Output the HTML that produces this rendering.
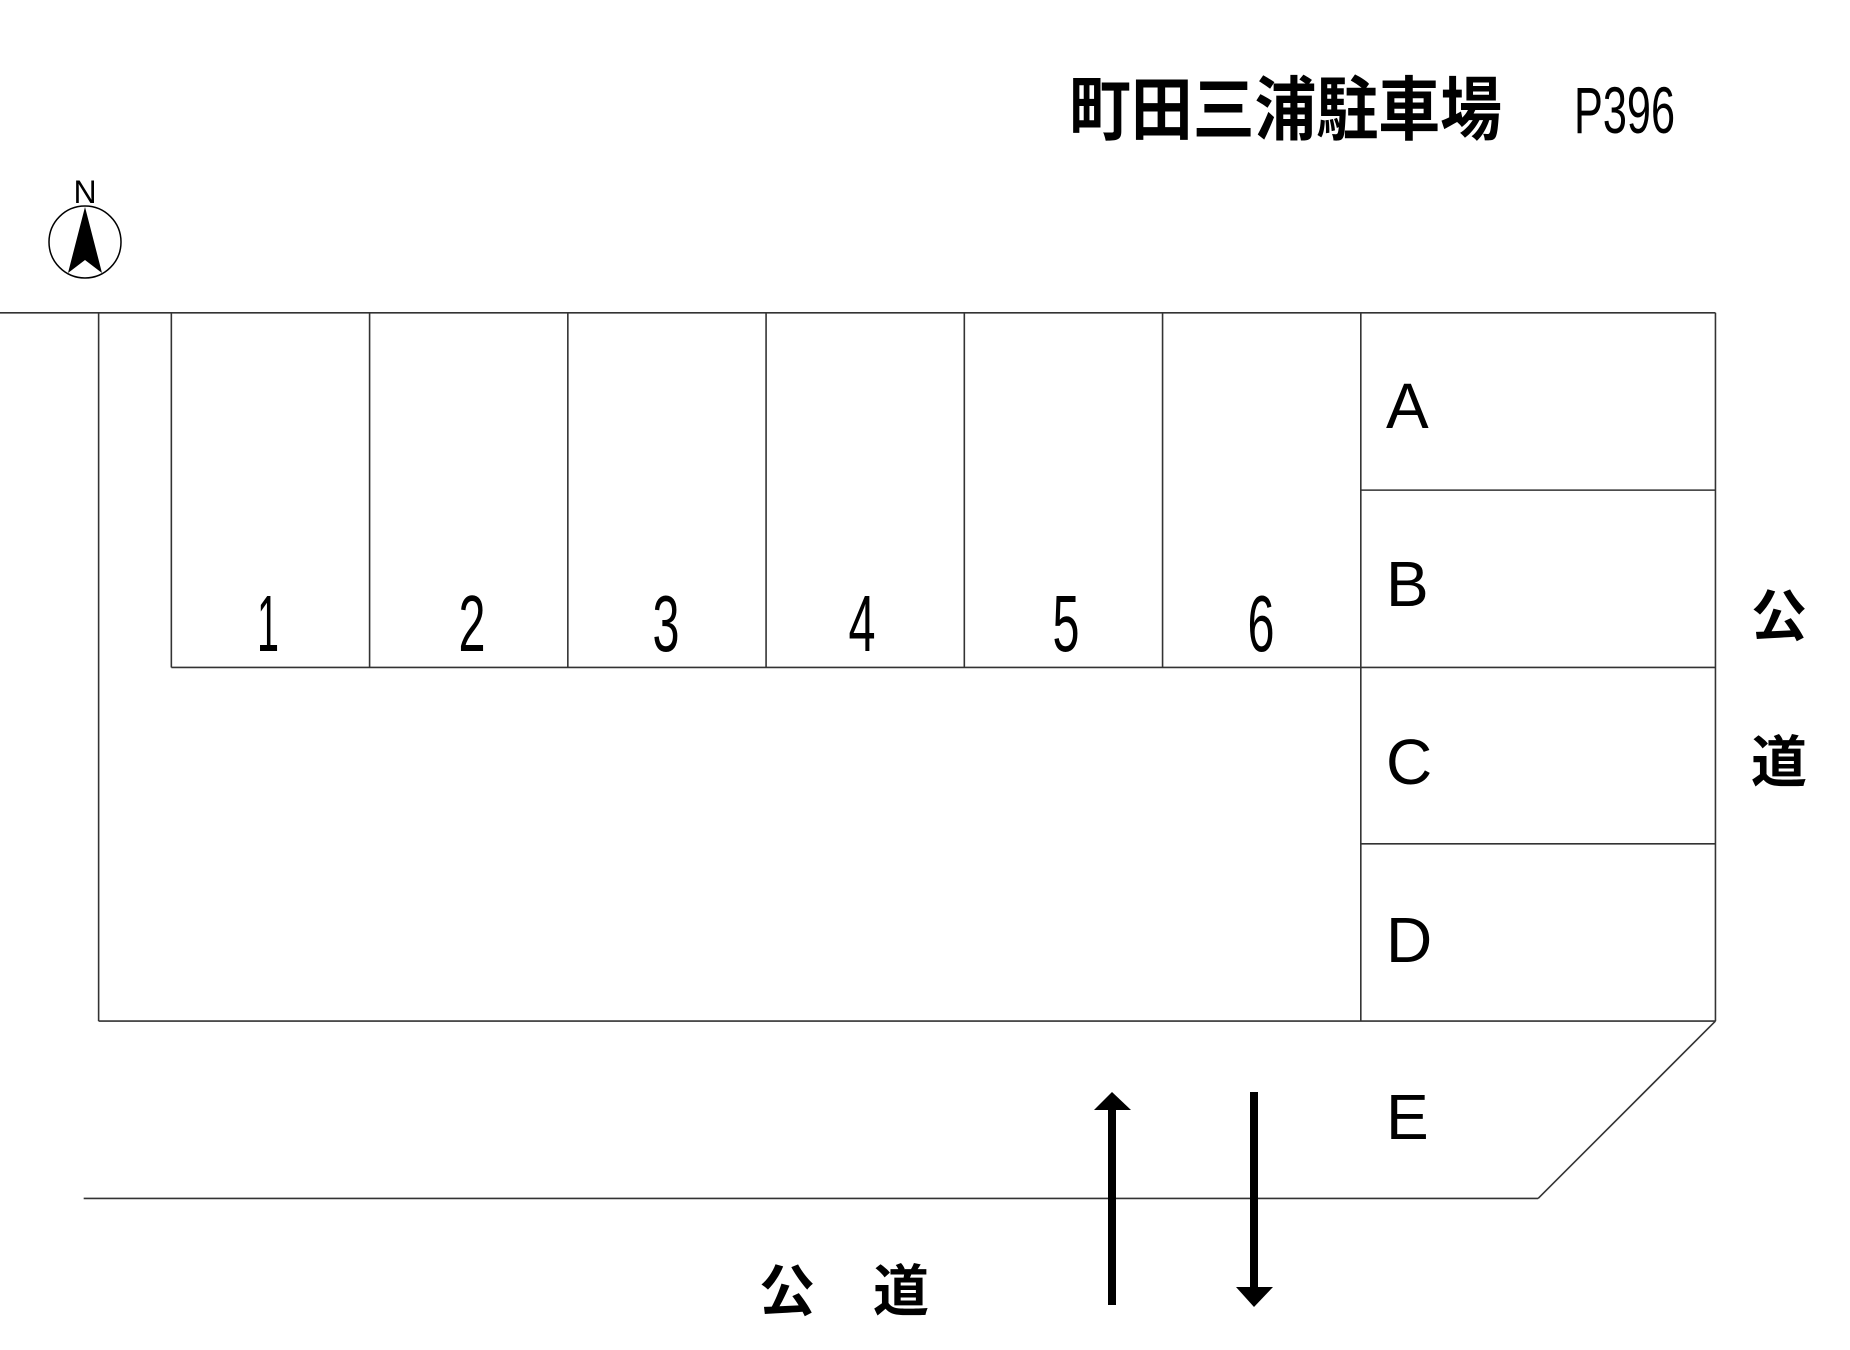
<!DOCTYPE html>
<html><head><meta charset="utf-8"><style>
html,body{margin:0;padding:0;background:#fff;}
svg{display:block;}
text{font-family:"Liberation Sans","Noto Sans CJK JP",sans-serif;fill:#000;}
.cjk{font-family:"Noto Sans CJK JP","Liberation Sans",sans-serif;font-weight:bold;}
</style></head><body>
<svg width="1850" height="1350" viewBox="0 0 1850 1350" xmlns="http://www.w3.org/2000/svg">
<g transform="scale(0.9962)">
<g stroke="#333" stroke-width="1.6" fill="none">
<line x1="0" y1="314" x2="1722" y2="314"/>
<line x1="99" y1="314" x2="99" y2="1025"/>
<line x1="99" y1="1025" x2="1722" y2="1025"/>
<line x1="1722" y1="314" x2="1722" y2="1025"/>
<line x1="1722" y1="1025" x2="1544" y2="1203"/>
<line x1="84" y1="1203" x2="1544" y2="1203"/>
<line x1="172" y1="314" x2="172" y2="670"/>
<line x1="371" y1="314" x2="371" y2="670"/>
<line x1="570" y1="314" x2="570" y2="670"/>
<line x1="769" y1="314" x2="769" y2="670"/>
<line x1="968" y1="314" x2="968" y2="670"/>
<line x1="1167" y1="314" x2="1167" y2="670"/>
<line x1="1366" y1="314" x2="1366" y2="1025"/>
<line x1="172" y1="670" x2="1722" y2="670"/>
<line x1="1366" y1="492" x2="1722" y2="492"/>
<line x1="1366" y1="847" x2="1722" y2="847"/>
</g>
</g>
<!-- compass -->
<circle cx="85" cy="242" r="36" fill="none" stroke="#000" stroke-width="1.5"/>
<polygon points="85,207 68,273 85,260 102,273" fill="#000"/>
<text x="85" y="203" font-size="32" text-anchor="middle">N</text>
<!-- title -->
<g transform="translate(1069,134) scale(1,1.12)">
<text class="cjk" x="0" y="0" font-size="62" textLength="433" lengthAdjust="spacingAndGlyphs">町田三浦駐車場</text>
</g>
<text x="1574" y="133" font-size="66" textLength="101" lengthAdjust="spacingAndGlyphs">P396</text>
<!-- numbers -->
<g font-size="80">
<text x="268" y="651" text-anchor="middle" textLength="22" lengthAdjust="spacingAndGlyphs">1</text>
<text x="472" y="651" text-anchor="middle" textLength="27" lengthAdjust="spacingAndGlyphs">2</text>
<text x="666" y="651" text-anchor="middle" textLength="27" lengthAdjust="spacingAndGlyphs">3</text>
<text x="862" y="651" text-anchor="middle" textLength="27" lengthAdjust="spacingAndGlyphs">4</text>
<text x="1066" y="651" text-anchor="middle" textLength="27" lengthAdjust="spacingAndGlyphs">5</text>
<text x="1261" y="651" text-anchor="middle" textLength="27" lengthAdjust="spacingAndGlyphs">6</text>
</g>
<g font-size="64">
<text x="1386" y="428">A</text>
<text x="1386" y="606">B</text>
<text x="1386" y="784">C</text>
<text x="1386" y="962">D</text>
<text x="1386" y="1139">E</text>
</g>
<g class="cjk" font-size="56" text-anchor="middle">
<text x="1779" y="636">公</text>
<text x="1779" y="782">道</text>
<text x="787" y="1311">公</text>
<text x="901" y="1311">道</text>
</g>
<!-- arrows -->
<rect x="1108" y="1108" width="8" height="197" fill="#000"/>
<polygon points="1112,1092 1094,1110 1131,1110" fill="#000"/>
<rect x="1250" y="1092" width="8" height="197" fill="#000"/>
<polygon points="1254,1307 1236,1287 1273,1287" fill="#000"/>
</svg>
</body></html>
